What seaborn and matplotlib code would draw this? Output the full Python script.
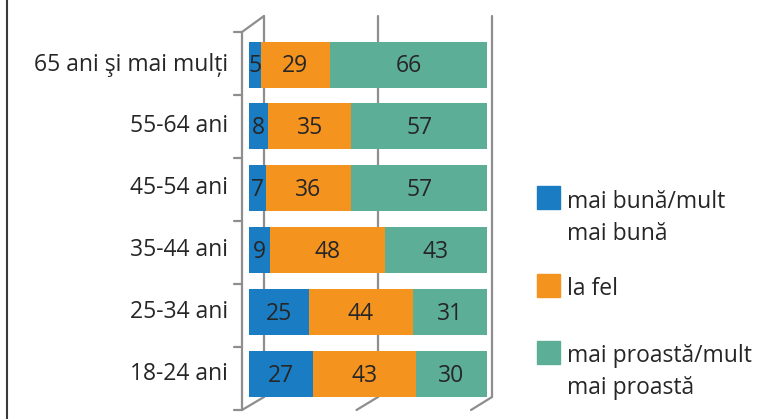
import matplotlib
matplotlib.use("Agg")
import matplotlib.pyplot as plt
import seaborn as sns
import pandas as pd
import numpy as np
from matplotlib.patches import Rectangle

# data (top to bottom as in the chart)
categories = ["65 ani şi mai mulți", "55-64 ani", "45-54 ani", "35-44 ani", "25-34 ani", "18-24 ani"]
mai_buna = [5, 8, 7, 9, 25, 27]
la_fel = [29, 35, 36, 48, 44, 43]
mai_proasta = [66, 57, 57, 43, 31, 30]
series_names = ["mai bună/mult\nmai bună", "la fel", "mai proastă/mult\nmai proastă"]
colors = ["#1A7DC3", "#F5931F", "#5DAE96"]
gridlines = [0, 50, 100]

sns.set_theme(style="white")
plt.rcParams["font.family"] = ["Open Sans", "DejaVu Sans"]
FS = 16.5
TXT = "#262626"

W, H = 779, 419
fig = plt.figure(figsize=(W / 100, H / 100), dpi=100)

# axes placed in pixel space; bars run from x=249 (0) to x=487 (100)
px_per_val = 2.38
px_per_row = 61.9
x0_px, row0_px = 249, 64.5
ax_l, ax_r, ax_t, ax_b = 228, 500, 8, 416
ax = fig.add_axes([ax_l / W, 1 - ax_b / H, (ax_r - ax_l) / W, (ax_b - ax_t) / H])
ax.set_xlim((ax_l - x0_px) / px_per_val, (ax_r - x0_px) / px_per_val)
ax.set_ylim((ax_b - row0_px) / px_per_row, (ax_t - row0_px) / px_per_row)

df = pd.DataFrame({"cat": categories, "b": mai_buna, "f": la_fel, "p": mai_proasta})
df["pos"] = np.arange(len(categories))

# 3d-ish chart frame (Excel style)
gray = "#8E8E8E"
def px2x(p):
    return (p - x0_px) / px_per_val
def px2y(p):
    return (p - row0_px) / px_per_row

front_x = [242 + g * 2.29 for g in gridlines]
back_x = [264 + g * 2.28 for g in gridlines]
front_top, front_bot, back_top, back_bot = 32, 410, 16, 397
for fx, bx in zip(front_x, back_x):
    ax.plot([px2x(bx), px2x(bx)], [px2y(back_top), px2y(back_bot)], color=gray, lw=1.6, zorder=1)
    ax.plot([px2x(fx), px2x(bx)], [px2y(front_bot), px2y(back_bot)], color=gray, lw=1.6, zorder=1)
ax.plot([px2x(front_x[0]), px2x(back_x[0])], [px2y(front_top), px2y(back_top)], color=gray, lw=1.6, zorder=1)
ax.plot([px2x(front_x[0])] * 2, [px2y(front_top), px2y(front_bot)], color=gray, lw=1.6, zorder=1)
band = (front_bot - front_top) / len(categories)
for i in range(len(categories) + 1):
    yy = px2y(front_top + i * band)
    ax.plot([px2x(234), px2x(front_x[0])], [yy, yy], color=gray, lw=1.6, zorder=1)

# stacked bars
bar_h = 46 / px_per_row
left = np.zeros(len(categories))
for col, name, c in zip(["b", "f", "p"], series_names, colors):
    sns.barplot(data=df, x=col, y="pos", orient="h", left=left, color=c,
                width=bar_h, ax=ax, native_scale=True,
                saturation=1, linewidth=0, zorder=2)
    for y, v, l in zip(df["pos"], df[col], left):
        ax.text(l + v / 2, y + 0.03, str(v), ha="center", va="center",
                fontsize=FS, color=TXT, zorder=3)
    left = left + df[col].values

ax.set_axis_off()

# category labels
for y, cat in zip(df["pos"], categories):
    ax.text(px2x(228), y, cat, ha="right", va="center", fontsize=FS, color=TXT)

# legend
leg_y = [198, 285, 352]
for name, c, ly in zip(series_names, colors, leg_y):
    fig.patches.append(Rectangle((537 / W, 1 - (ly + 11.5) / H), 23 / W, 23 / H,
                                 transform=fig.transFigure, color=c))
    fig.text(567 / W, 1 - (ly - 8) / H, name, ha="left", va="top",
             fontsize=FS, color=TXT, linespacing=1.45)

# left border of the picture
fig.add_artist(plt.Line2D([6.5 / W, 6.5 / W], [0, 1], color="#3A3A3A", lw=1.5))

fig.savefig("out.png", dpi=100)
